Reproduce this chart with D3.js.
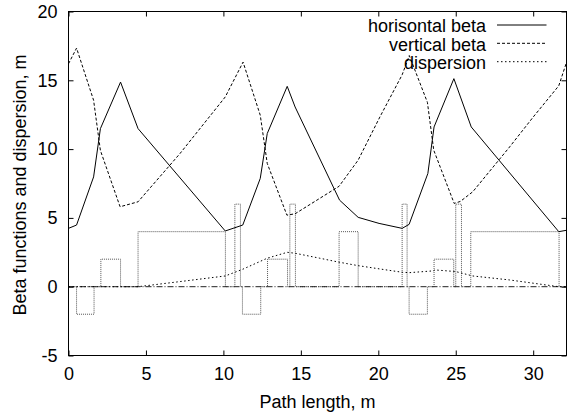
<!DOCTYPE html>
<html>
<head>
<meta charset="utf-8">
<script src="https://cdn.jsdelivr.net/npm/d3@7"></script>
<style>
html,body{margin:0;padding:0;background:#fff;}
svg{display:block;font-family:"Liberation Sans",Arial,Helvetica,sans-serif;}
</style>
</head>
<body>
<svg id="chart" width="567" height="417"></svg>
<script>
// ---- data ----
const xTicks = [0, 5, 10, 15, 20, 25, 30];
const yTicks = [-5, 0, 5, 10, 15, 20];

const seriesNames = ["horisontal beta", "vertical beta", "dispersion"];

// horizontal beta
const hS = [0, 0.52, 1.62, 2.06, 3.36, 4.49, 10.12, 11.25, 12.38, 12.83, 14.12, 14.63, 17.5, 18.7, 20.05, 21.54, 21.99, 23.2, 23.6, 24.88, 26.0, 31.65, 32.15];
const hB = [4.24, 4.48, 7.98, 11.49, 14.87, 11.49, 4.05, 4.48, 7.87, 11.13, 14.56, 13.06, 6.29, 5.04, 4.6, 4.24, 4.53, 8.23, 11.61, 15.12, 11.61, 4.0, 4.1];

// vertical beta
const vS = [0, 0.52, 1.62, 2.06, 3.33, 4.49, 7.2, 10.12, 11.27, 12.38, 12.83, 14.1, 14.63, 16.22, 17.47, 18.7, 20.1, 21.54, 22.0, 23.17, 23.58, 24.9, 25.3, 26.1, 28.48, 30.0, 31.65, 32.15];
const vB = [16.2, 17.34, 13.55, 9.9, 5.81, 6.17, 9.68, 13.79, 16.32, 12.46, 8.96, 5.2, 5.3, 6.42, 7.3, 9.2, 12.33, 15.4, 16.8, 13.4, 9.92, 6.05, 6.2, 6.9, 10.16, 12.33, 14.6, 16.3];

// dispersion
const dS = [0, 4.49, 7.19, 10.12, 11.25, 12.83, 14.12, 14.63, 16.22, 17.47, 18.7, 20.1, 21.54, 22.0, 23.55, 23.65, 25.0, 26.1, 28.48, 31.65, 32.15];
const dV = [0, 0, 0.37, 0.78, 1.27, 2.07, 2.5, 2.43, 2.07, 1.78, 1.53, 1.29, 1.05, 1.02, 1.15, 1.22, 1.1, 0.78, 0.49, 0, 0];

// lattice elements (start, end, strength)
const elemStart = [0.52, 2.09, 4.49, 10.74, 11.23, 12.85, 14.29, 17.47, 21.54, 21.99, 23.6, 25.0, 25.97];
const elemEnd   = [1.65, 3.36, 10.13, 11.1, 12.41, 14.14, 14.65, 18.70, 21.86, 23.17, 24.87, 25.37, 31.67];
const elemVal   = [-2, 2, 4, 6, -2, 2, 6, 4, 6, -2, 2, 6, 4];

const xMax = 32.15;

// ---- drawing ----
const svg = d3.select("#chart");
const L = 68.5, R = 566.5, T = 11.5, B = 355.5;
const x = d3.scaleLinear().domain([0, xMax]).range([L, R]);
const y = d3.scaleLinear().domain([-5, 20]).range([B, T]);

const plot = svg.append("g");
svg.append("clipPath").attr("id", "clip").append("rect")
  .attr("x", L).attr("y", T).attr("width", R - L).attr("height", B - T);
const area = plot.append("g").attr("clip-path", "url(#clip)");

// elements as step path
const elemPts = [[0, 0]];
elemStart.forEach((s, i) => {
  elemPts.push([s, 0], [s, elemVal[i]], [elemEnd[i], elemVal[i]], [elemEnd[i], 0]);
});
elemPts.push([xMax, 0]);
const line = d3.line().x(d => x(d[0])).y(d => y(d[1]));
area.append("path").attr("d", line(elemPts))
  .attr("fill", "none").attr("stroke", "#555").attr("stroke-width", 1)
  .attr("stroke-dasharray", "1,1");

// zero axis
area.append("line").attr("x1", L).attr("x2", R)
  .attr("y1", y(0)).attr("y2", y(0))
  .attr("stroke", "#222").attr("stroke-width", 1)
  .attr("stroke-dasharray", "6,2,1,2");

const styles = [
  {stroke: "#000", dash: null},
  {stroke: "#000", dash: "3,2"},
  {stroke: "#000", dash: "1.5,2.5"}
];
const data = [
  hS.map((s, i) => [s, hB[i]]),
  vS.map((s, i) => [s, vB[i]]),
  dS.map((s, i) => [s, dV[i]])
];
[2, 1, 0].forEach(k => {
  area.append("path").attr("d", line(data[k]))
    .attr("fill", "none").attr("stroke", styles[k].stroke)
    .attr("stroke-width", 1)
    .attr("stroke-dasharray", styles[k].dash);
});

// axes
const fs = "18px";
const fmt = d => String(d);
const ax = svg.append("g");
const axB = ax.append("g").attr("transform", `translate(0,${B})`)
  .call(d3.axisBottom(x).tickValues(xTicks).tickSize(-5).tickPadding(12).tickFormat(fmt));
const axT = ax.append("g").attr("transform", `translate(0,${T})`)
  .call(d3.axisTop(x).tickValues(xTicks).tickSize(-5).tickFormat(""));
const axL = ax.append("g").attr("transform", `translate(${L},0)`)
  .call(d3.axisLeft(y).tickValues(yTicks).tickSize(-5).tickPadding(11).tickFormat(fmt));
const axR = ax.append("g").attr("transform", `translate(${R},0)`)
  .call(d3.axisRight(y).tickValues(yTicks).tickSize(-5).tickFormat(""));
ax.selectAll(".domain").remove();
ax.selectAll(".tick line").attr("stroke", "#000");
ax.selectAll(".tick text").attr("font-size", fs).attr("fill", "#000")
  .attr("font-family", "Liberation Sans, Arial, sans-serif");
axT.selectAll("text").remove();
axR.selectAll("text").remove();

// frame
svg.append("rect").attr("x", L).attr("y", T).attr("width", R - L).attr("height", B - T)
  .attr("fill", "none").attr("stroke", "#000").attr("stroke-width", 1);

// axis labels
svg.append("text").attr("x", (L + R) / 2).attr("y", 408)
  .attr("text-anchor", "middle").attr("font-size", fs).text("Path length, m");
svg.append("text").attr("transform", `translate(26,185) rotate(-90)`)
  .attr("text-anchor", "middle").attr("font-size", fs).text("Beta functions and dispersion, m");

// legend
const lg = svg.append("g");
const legBase = [32, 50.5, 69];
const legLineY = [25, 43.3, 61.7];
seriesNames.forEach((name, i) => {
  lg.append("text").attr("x", 486).attr("y", legBase[i]).attr("text-anchor", "end")
    .attr("font-size", fs).text(name);
  lg.append("line").attr("x1", 497).attr("x2", 546.5)
    .attr("y1", legLineY[i]).attr("y2", legLineY[i])
    .attr("stroke", styles[i].stroke).attr("stroke-width", 1)
    .attr("stroke-dasharray", styles[i].dash);
});
</script>
</body>
</html>
